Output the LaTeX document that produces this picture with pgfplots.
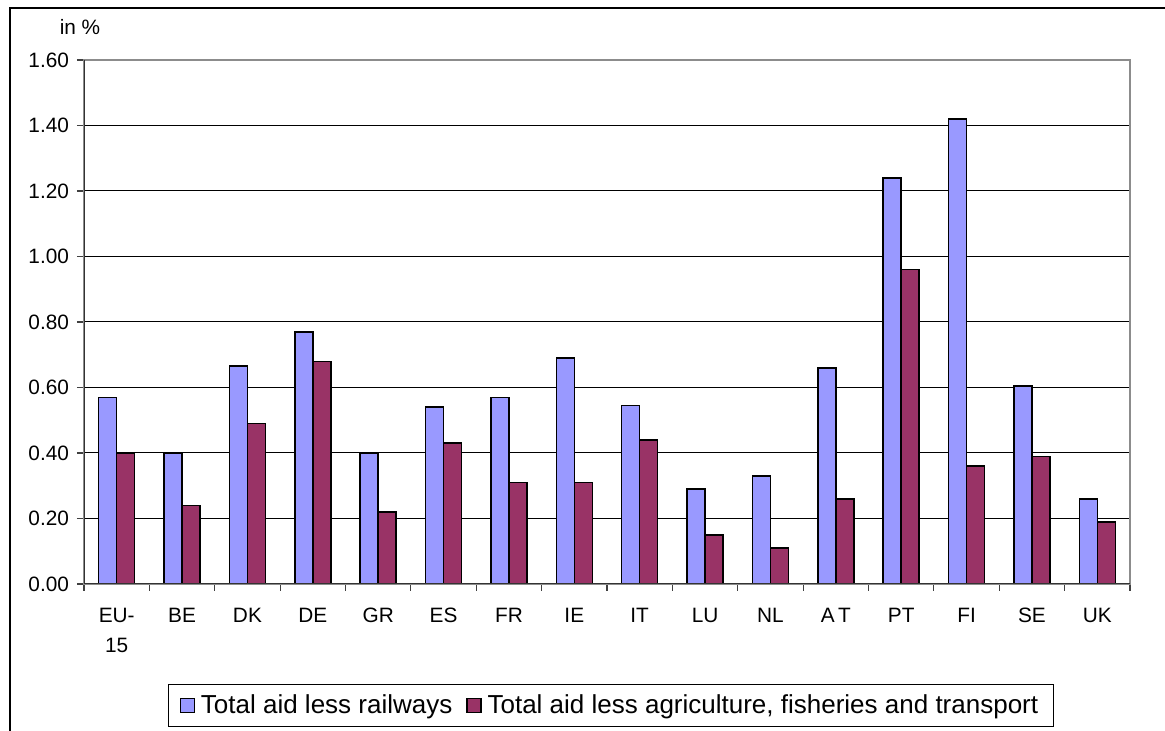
\documentclass[border=0pt]{standalone}
\usepackage{pgfplots}
\pgfplotsset{compat=1.18}
\usepackage{fontspec}
\setmainfont{Liberation Sans}
\definecolor{cblue}{HTML}{9999FF}
\definecolor{cred}{HTML}{993366}
\begin{document}
\begin{tikzpicture}
\useasboundingbox (-42pt,-73.5pt) rectangle (540.5pt,292pt);
\draw[line width=0.8pt,black] (-37pt,-80pt) -- (-37pt,288pt) -- (545pt,288pt);
\begin{axis}[
  at={(0pt,0pt)}, anchor=south west,
  scale only axis, width=523pt, height=262pt,
  ybar=0pt, bar width=9pt,
  xmin=-0.5, xmax=15.5, ymin=0, ymax=1.6,
  xtick={0,...,15},
  xticklabels={{EU-\\15},BE,DK,DE,GR,ES,FR,IE,IT,LU,NL,{A\,T},PT,FI,SE,UK},
  xticklabel style={align=center, font=\fontsize{10.4}{15}\selectfont, yshift=-5pt},
  minor xtick={-0.5,0.5,...,15.5},
  major x tick style={draw=none},
  minor x tick style={draw=black!75, line width=0.6pt},
  minor tick length=3.5pt,
  ytick={0,0.2,...,1.6},
  yticklabel style={font=\fontsize{10.4}{12}\selectfont, xshift=-0.5pt},
  /pgf/number format/.cd, fixed, fixed zerofill, precision=2, assume math mode=true,
  /pgfplots/.cd,
  major tick length=3.5pt,
  tick align=outside,
  xtick pos=bottom, ytick pos=left,
  y tick style={draw=black!75, line width=0.6pt},
  ymajorgrids, grid style={black, line width=0.5pt},
  axis line style={draw=black!45, line width=0.8pt},
  legend columns=2,
  legend style={at={(0.5038,-0.2319)}, anchor=center, draw=black, line width=0.5pt,
    font=\fontsize{13}{15}\selectfont, inner xsep=5.5pt, inner ysep=3pt,
    /tikz/every even column/.append style={column sep=5pt},
    /tikz/every odd column/.append style={column sep=1pt}},
  legend image code/.code={\draw[#1, line width=0.6pt] (0pt,-3.5pt) rectangle (7pt,3.5pt);},
]
\addplot[draw=black, line width=0.75pt, fill=cblue] coordinates {
(0,0.57) (1,0.40) (2,0.665) (3,0.77) (4,0.40) (5,0.54) (6,0.57) (7,0.69)
(8,0.545) (9,0.29) (10,0.33) (11,0.66) (12,1.24) (13,1.42) (14,0.605) (15,0.26)};
\addplot[draw=black, line width=0.75pt, fill=cred] coordinates {
(0,0.40) (1,0.24) (2,0.49) (3,0.68) (4,0.22) (5,0.43) (6,0.31) (7,0.31)
(8,0.44) (9,0.15) (10,0.11) (11,0.26) (12,0.96) (13,0.36) (14,0.39) (15,0.19)};
\legend{Total aid less railways, Total aid less agriculture{,} fisheries and transport}
\draw[black!80, line width=0.8pt] (rel axis cs:0,0) -- (rel axis cs:0,1);
\draw[black!80, line width=0.8pt] (rel axis cs:0,0) -- (rel axis cs:1,0);
\end{axis}
\node[font=\fontsize{10.4}{12}\selectfont] at (-2pt,278.5pt) {in \%};
\end{tikzpicture}
\end{document}
